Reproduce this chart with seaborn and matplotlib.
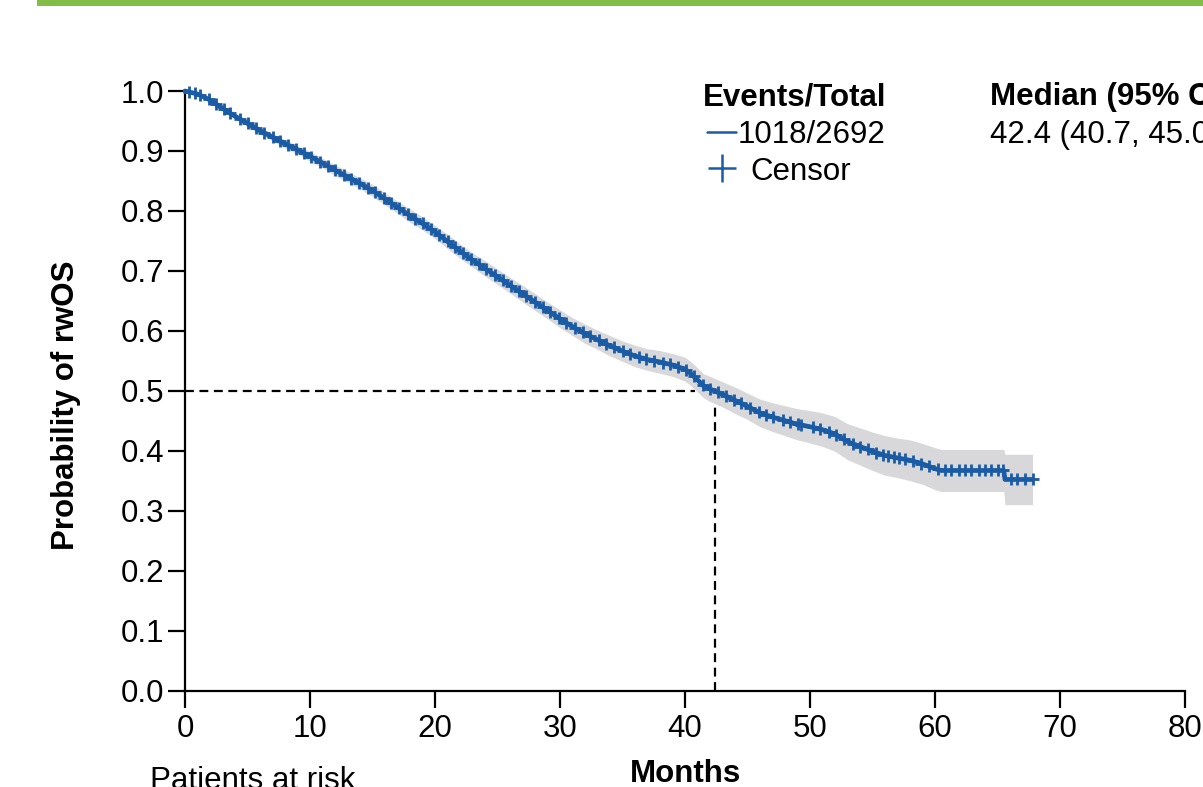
import numpy as np
import matplotlib
matplotlib.use("Agg")
import matplotlib.pyplot as plt
from matplotlib.lines import Line2D
from matplotlib.patches import Rectangle
import seaborn as sns

# ---- data -----------------------------------------------------------------
months = [0, 1, 2, 3, 4, 5, 6, 7, 8, 9, 10, 11, 12, 13, 14, 15, 16, 17, 18, 19,
          20, 21, 22, 23, 24, 25, 26, 27, 28, 29, 30, 31, 32, 33, 34, 35, 36, 37,
          38, 39, 40, 40.5, 41, 41.5, 42, 43, 44, 45, 46, 47, 48, 49, 50, 51, 52,
          53, 54, 55, 56, 57, 58, 59, 60, 60.5, 65.5, 65.6, 67.8]
surv = [1.000, 0.995, 0.985, 0.971, 0.958, 0.946, 0.934, 0.923, 0.912, 0.902,
        0.891, 0.880, 0.868, 0.857, 0.846, 0.834, 0.820, 0.806, 0.792, 0.779,
        0.765, 0.749, 0.733, 0.718, 0.704, 0.690, 0.676, 0.662, 0.648, 0.634,
        0.620, 0.607, 0.595, 0.585, 0.575, 0.566, 0.558, 0.552, 0.548, 0.543,
        0.536, 0.528, 0.518, 0.508, 0.503, 0.494, 0.484, 0.474, 0.463, 0.456,
        0.450, 0.444, 0.440, 0.435, 0.428, 0.415, 0.407, 0.399, 0.392, 0.388,
        0.384, 0.378, 0.370, 0.367, 0.367, 0.352, 0.352]
ci_lower = [1.000, 0.993, 0.982, 0.967, 0.953, 0.941, 0.928, 0.917, 0.905, 0.895,
            0.883, 0.872, 0.859, 0.848, 0.837, 0.824, 0.810, 0.796, 0.781, 0.768,
            0.754, 0.737, 0.721, 0.706, 0.691, 0.677, 0.663, 0.648, 0.634, 0.620,
            0.605, 0.592, 0.579, 0.569, 0.558, 0.549, 0.540, 0.534, 0.529, 0.524,
            0.516, 0.508, 0.498, 0.488, 0.482, 0.473, 0.462, 0.452, 0.440, 0.432,
            0.425, 0.418, 0.413, 0.407, 0.399, 0.385, 0.376, 0.367, 0.359, 0.355,
            0.350, 0.344, 0.335, 0.332, 0.332, 0.310, 0.310]
ci_upper = [1.000, 0.997, 0.988, 0.975, 0.963, 0.951, 0.940, 0.929, 0.919, 0.909,
            0.899, 0.888, 0.877, 0.866, 0.855, 0.844, 0.830, 0.816, 0.803, 0.790,
            0.776, 0.761, 0.745, 0.730, 0.717, 0.703, 0.689, 0.676, 0.662, 0.648,
            0.635, 0.622, 0.611, 0.601, 0.592, 0.583, 0.576, 0.570, 0.567, 0.562,
            0.556, 0.548, 0.538, 0.528, 0.524, 0.515, 0.506, 0.496, 0.486, 0.480,
            0.475, 0.470, 0.467, 0.463, 0.457, 0.445, 0.438, 0.431, 0.425, 0.421,
            0.418, 0.412, 0.405, 0.402, 0.402, 0.394, 0.394]
censor_times = [0.3, 0.8, 1.2, 1.9, 2.5, 3.1, 3.6, 4.4, 5.0, 5.7, 6.3, 7.0, 7.6,
                8.2, 8.9, 9.5, 10.1, 10.8, 11.4, 12.0, 12.7, 13.3, 13.9, 14.6,
                15.2, 15.9, 16.5, 17.1, 17.8, 18.4, 19.0, 19.7, 20.3, 21.0, 21.6,
                22.2, 22.9, 23.5, 24.1, 24.8, 25.4, 26.1, 26.7, 27.3, 28.0, 28.6,
                29.2, 29.9, 30.5, 31.2, 31.8, 32.4, 33.1, 33.7, 34.3, 35.0, 35.6,
                36.3, 36.9, 37.5, 38.2, 38.8, 39.4, 40.1, 40.7, 41.4, 42.0, 42.6,
                43.3, 43.9, 44.5, 45.2, 45.9, 46.5, 47.0, 47.8, 48.4, 49.0, 49.3,
                50.2, 50.8, 51.5, 52.1, 52.7, 53.4, 54.0, 54.6, 55.3, 55.8, 56.2,
                56.7, 57.1, 57.6, 58.2, 58.9, 59.5, 60.2, 60.8, 61.3, 61.9, 62.4,
                62.9, 63.5, 64.0, 64.5, 65.0, 65.4, 66.1, 66.6, 67.2, 67.8]
events_total = "1018/2692"
median_os = 42.4
median_label = "42.4 (40.7, 45.0)"
x_ticks = [0, 10, 20, 30, 40, 50, 60, 70, 80]
y_ticks = [0.0, 0.1, 0.2, 0.3, 0.4, 0.5, 0.6, 0.7, 0.8, 0.9, 1.0]

BLUE = "#1a5ba6"
BAND = "#d8d8db"
GREEN = "#82bd48"

# ---- style -------------------------------------------------------------------
sns.set_theme(style="white")
plt.rcParams["font.family"] = ["Liberation Sans", "DejaVu Sans"]
plt.rcParams["text.color"] = "black"
plt.rcParams["axes.labelcolor"] = "black"
FS = 22.5

W, H = 1203, 787
fig = plt.figure(figsize=(W / 100, H / 100), dpi=100)
ax = fig.add_axes([185 / W, 1 - 690.5 / H, 1000 / W, 599.5 / H])


def fx(px):
    return px / W


def fy(py):
    return 1 - py / H


# green bar across the top
fig.patches.append(Rectangle((fx(37), fy(5.7)), 1 - fx(37), 5.7 / H,
                             transform=fig.transFigure, color=GREEN, lw=0))

# confidence band and curve
ax.fill_between(months, ci_lower, ci_upper, color=BAND, lw=0, zorder=1)
sns.lineplot(x=months, y=surv, ax=ax, color=BLUE, lw=3.4, estimator=None,
             sort=False, zorder=3, clip_on=False)

# censor marks sit on the curve
cens_y = np.interp(censor_times, months, surv)
sns.scatterplot(x=censor_times, y=cens_y, ax=ax, marker="+", s=75,
                linewidth=2.0, color=BLUE, zorder=4, clip_on=False)

# median reference lines
ax.plot([0, 40.8], [0.5, 0.5], color="black", lw=1.6, ls=(0, (4, 2.5)), zorder=2)
ax.plot([median_os, median_os], [0, 0.475], color="black", lw=1.6,
        ls=(0, (4, 2.5)), zorder=2)

# axes
ax.set_xlim(0, 80)
ax.set_ylim(0, 1.0)
ax.set_xticks(x_ticks)
ax.set_yticks(y_ticks)
ax.set_yticklabels([f"{v:.1f}" for v in y_ticks])
for side in ["top", "right"]:
    ax.spines[side].set_visible(False)
for side in ["left", "bottom"]:
    ax.spines[side].set_color("black")
    ax.spines[side].set_linewidth(1.6)
ax.tick_params(axis="both", which="major", bottom=True, left=True,
               direction="out", length=12, width=1.6,
               color="black", labelsize=FS, labelcolor="black")
ax.tick_params(axis="y", pad=3)
ax.tick_params(axis="x", pad=5)
ax.patch.set_alpha(0)

ax.set_xlabel("Months", fontsize=FS, fontweight="bold", color="black")
ax.xaxis.set_label_coords(fx(685), fy(782), transform=fig.transFigure)
ax.xaxis.label.set_verticalalignment("baseline")
ax.set_ylabel("Probability of rwOS", fontsize=FS, fontweight="bold", color="black")
ax.yaxis.set_label_coords(fx(66), fy(405), transform=fig.transFigure)
ax.yaxis.label.set_verticalalignment("center")
ax.yaxis.label.set_horizontalalignment("center")

# legend-like header block
fig.text(fx(703), fy(105), "Events/Total", fontsize=FS, fontweight="bold",
         va="baseline", ha="left")
fig.text(fx(738), fy(143), events_total, fontsize=FS, va="baseline", ha="left")
fig.lines.append(Line2D([fx(707), fx(736)], [fy(131.5), fy(131.5)],
                        transform=fig.transFigure, color=BLUE, lw=1.8))
fig.lines.append(Line2D([fx(721.5)], [fy(168)], transform=fig.transFigure,
                        color=BLUE, marker="+", markersize=20, mew=1.8, ls="none"))
fig.text(fx(750), fy(180), "Censor", fontsize=FS, va="baseline", ha="left")
fig.text(fx(990), fy(105), "Median (95% CI)", fontsize=FS, fontweight="bold",
         va="baseline", ha="left")
fig.text(fx(990), fy(143), median_label, fontsize=FS, va="baseline", ha="left")
fig.text(fx(150), fy(789), "Patients at risk", fontsize=FS, va="baseline",
         ha="left")

fig.savefig("out.png", dpi=100)
